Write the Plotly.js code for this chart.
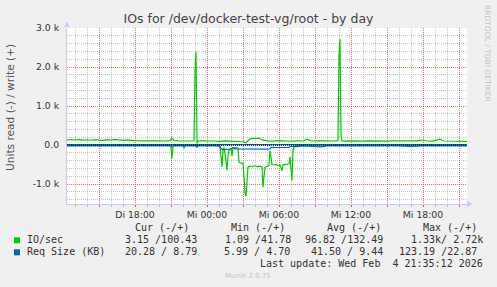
<!DOCTYPE html>
<html><head><meta charset="utf-8">
<script src="https://cdn.plot.ly/plotly-3.0.1.min.js"></script>
<style>html,body{margin:0;padding:0;background:#f0f0f0}#chart{width:497px;height:287px}</style>
</head><body><div id="chart"></div>
<script>
// ---- data (times are Feb 2026, "3 hh:mm" = Di 3.2., "4 hh:mm" = Mi 4.2.) ----
const writeTimes = [
 '3 12:20','3 12:40','3 13:00','3 13:20','3 13:40','3 14:00','3 14:20','3 14:40',
 '3 15:00','3 15:20','3 15:40','3 16:00','3 16:20','3 16:40','3 17:00','3 17:20',
 '3 17:40','3 18:00','3 18:30','3 19:00','3 19:30','3 20:00','3 20:30','3 20:55',
 '3 21:05','3 21:15','3 21:40','3 22:00','3 22:30','3 22:55','3 23:00','3 23:05',
 '3 23:10','3 23:15','3 23:40','4 00:00','4 00:30','4 01:00','4 01:30','4 02:00',
 '4 02:30','4 03:00','4 03:15','4 03:30','4 03:45','4 04:05','4 04:20','4 04:40',
 '4 05:00','4 05:30','4 06:00','4 06:30','4 07:00','4 07:30','4 08:00','4 08:20',
 '4 08:40','4 09:00','4 09:30','4 10:00','4 10:30','4 10:55','4 11:00','4 11:05',
 '4 11:10','4 11:15','4 11:40','4 12:00','4 12:30','4 13:00','4 13:30','4 14:00',
 '4 14:30','4 15:00','4 15:30','4 16:00','4 16:30','4 17:00','4 17:30','4 17:55',
 '4 18:20','4 18:50','4 19:25','4 19:45','4 20:10','4 20:40','4 21:10','4 21:40'];
const writeIO = [
 125,142,130,148,127,136,124,140,
 128,122,138,126,146,130,122,134,
 118,112,108,114,106,110,104,112,
 175,118,104,110,102,108,1900,2390,
 40,105,110,100,104,96,110,100,
 92,85,60,140,175,165,180,125,
 108,100,112,104,98,110,104,150,
 105,110,100,108,104,112,2300,2720,
 250,100,110,104,108,100,110,104,
 112,102,108,104,110,102,108,130,
 104,100,150,105,100,96,90,95];

const readTimes = [
 '3 12:20','3 14:00','3 16:00','3 18:00','3 20:00','3 20:55','3 21:00','3 21:05',
 '3 21:10','3 21:15','3 22:00','3 22:05','3 22:10','3 23:05','3 23:10','3 23:15',
 '4 00:00','4 01:05','4 01:10','4 01:15','4 01:20','4 01:25','4 01:35','4 01:40',
 '4 01:45','4 01:50','4 02:00','4 02:05','4 02:10','4 02:25','4 02:35','4 02:40',
 '4 02:45','4 02:55','4 03:00','4 03:05','4 03:10','4 03:15','4 03:20','4 03:25',
 '4 03:35','4 03:45','4 03:55','4 04:05','4 04:15','4 04:25','4 04:35','4 04:40',
 '4 04:45','4 04:50','4 05:00','4 05:10','4 05:15','4 05:20','4 05:25','4 05:35',
 '4 05:45','4 05:55','4 06:05','4 06:15','4 06:20','4 06:30','4 06:40','4 06:50',
 '4 06:55','4 07:00','4 07:05','4 07:10','4 07:15','4 07:25','4 08:00','4 12:00',
 '4 16:00','4 21:40'];
const readIO = [
 4,6,4,5,4,6,60,340,
 40,5,5,80,5,5,70,5,
 4,10,300,560,150,60,400,650,
 300,120,90,280,80,60,80,440,
 450,460,470,800,1250,1310,900,560,
 540,555,530,545,550,540,560,1080,
 700,560,550,520,140,300,500,510,
 500,520,510,660,500,500,490,480,
 300,600,915,125,60,10,5,4,
 5,4];

const reqReadTimes = [
 '3 12:20','3 13:30','3 15:00','3 16:30','3 18:00','3 19:30','3 21:00','3 21:05',
 '3 21:10','3 22:30','3 23:05','4 00:00','4 01:00','4 01:10','4 01:15','4 02:00',
 '4 02:10','4 02:20','4 03:00','4 04:00','4 05:00','4 05:15','4 05:20','4 06:00',
 '4 06:50','4 07:00','4 07:30','4 08:00','4 09:00','4 09:30','4 10:00','4 11:00',
 '4 12:00','4 13:00','4 14:00','4 15:00','4 16:00','4 17:00','4 18:00','4 19:00',
 '4 20:00','4 21:00','4 21:40'];
const reqRead = [
 20,24,18,22,19,23,18,40,
 20,22,18,21,20,90,108,105,
 60,100,105,108,104,100,60,62,
 58,30,40,22,26,45,20,24,
 20,30,20,24,22,35,20,22,
 25,20,20];

const reqWriteTimes = ['3 12:20','3 15:00','3 18:00','3 21:00','3 23:05','4 00:00','4 03:00','4 06:00',
 '4 09:00','4 11:05','4 12:00','4 15:00','4 18:00','4 21:40'];
const reqWrite = [9,8,10,9,12,8,6,7, 9,15,9,8,10,9];

const tickTimes = ['3 15:00','3 18:00','3 21:00','4 00:00','4 03:00','4 06:00','4 09:00','4 12:00','4 15:00','4 18:00','4 21:00'];
const tickLabels = ['','Di 18:00','','Mi 00:00','','Mi 06:00','','Mi 12:00','','Mi 18:00',''];
const yTickVals = [-1000,0,1000,2000,3000];
const yTickLabels = ['-1.0 k','0.0','1.0 k','2.0 k','3.0 k'];

const legendHeader = ['Cur (-/+)','Min (-/+)','Avg (-/+)','Max (-/+)'];
const ioRow = ['3.15 /100.43','1.09 /41.78','96.82 /132.49','1.33k/ 2.72k'];
const reqRow = ['20.28 / 8.79','5.99 / 4.70','41.50 / 9.44','123.19 /22.87'];

// ---- drawing ----
const d = s => '2026-02-0' + s;
const GREEN = '#00cc00', BLUE = '#0066b3';
const neg = a => a.map(v => -v);

const traces = [
 {x: writeTimes.map(d), y: writeIO, mode:'lines', line:{color:GREEN,width:1.2}},
 {x: readTimes.map(d), y: neg(readIO), mode:'lines', line:{color:GREEN,width:1.2}},
 {x: reqWriteTimes.map(d), y: reqWrite, mode:'lines', line:{color:BLUE,width:1.2}},
 {x: reqReadTimes.map(d), y: neg(reqRead), mode:'lines', line:{color:BLUE,width:1.2}}
];

const L=67, R=467, T=28, B=204;
const px = v => (v-L)/(R-L);
const py = v => (B-v)/(B-T);
const MONO = 'DejaVu Sans Mono', SANS = 'DejaVu Sans';
const TXT = '#333';
const ann = [];
function txt(text, x, y, anchor, opts) {
  ann.push(Object.assign({text, x:px(x), y:py(y), xref:'paper', yref:'paper', xanchor:anchor, yanchor:'middle',
    showarrow:false, borderpad:0, borderwidth:0, font:{family:MONO,size:10,color:TXT}}, opts||{}));
}
// y title
txt('Units read (-) / write (+)', 10, 108, 'center', {textangle:-90, font:{family:SANS,size:10.6,color:'#555'}});
// right side credit
txt('RRDTOOL / TOBI OETIKER', 488, 53, 'center', {textangle:90, font:{family:SANS,size:7.5,color:'#c4c4c4'}});
// legend header
const hdrX = [135,230.7,327.3,422.7];
legendHeader.forEach((s,i)=>txt(s, hdrX[i], 227.3, 'left'));
txt('IO/sec', 26.7, 239.7, 'left');
txt('Req Size (KB)', 26.7, 251.7, 'left');
const ioRight = [197.3,290.7,383.3,482.7];
const reqRight = [197.3,290.3,383.3,476.7];
ioRow.forEach((s,i)=>txt(s, ioRight[i], 239.7, 'right'));
reqRow.forEach((s,i)=>txt(s, reqRight[i], 251.7, 'right'));
txt('Last update: Wed Feb\u00a0\u00a04 21:35:12 2026', 482.7, 263.3, 'right');
txt('Munin 2.0.75', 248, 276, 'center', {font:{family:SANS,size:7,color:'#c0c0c0'}});

const AX = '#c8ccf2';
const shapes = [
 {type:'rect', xref:'paper', yref:'paper', x0:px(14), x1:px(20), y0:py(237.3), y1:py(243.3), fillcolor:GREEN, line:{width:0}},
 {type:'rect', xref:'paper', yref:'paper', x0:px(14), x1:px(20), y0:py(249.3), y1:py(255.3), fillcolor:BLUE, line:{width:0}},
 {type:'path', xref:'paper', yref:'paper', path:`M ${px(64)} ${py(27)} L ${px(70)} ${py(27)} L ${px(67)} ${py(21.5)} Z`, fillcolor:AX, line:{width:0}},
 {type:'path', xref:'paper', yref:'paper', path:`M ${px(467)} ${py(201)} L ${px(467)} ${py(207)} L ${px(472.5)} ${py(204)} Z`, fillcolor:AX, line:{width:0}},
 {type:'line', xref:'paper', yref:'y', x0:0, x1:1, y0:0, y1:0, layer:'above', line:{color:'#000', width:1, dash:'1px,1px'}}
];

const layout = {
 width:497, height:287,
 margin:{l:67, r:30, t:28, b:83, pad:0},
 paper_bgcolor:'#f0f0f0', plot_bgcolor:'#ffffff',
 showlegend:false, hovermode:false,
 title:{text:'IOs for /dev/docker-test-vg/root - by day', x:0.5, xanchor:'center', y:1-19/287, yanchor:'middle',
   font:{family:SANS, size:12.5, color:'#444'}},
 xaxis:{type:'date', range:[d('3 12:20'), d('4 21:40')],
   tickmode:'array', tickvals:tickTimes.map(d), ticktext:tickLabels,
   showgrid:true, gridcolor:'rgba(255,0,0,0.4)', griddash:'1px,1px', gridwidth:1,
   ticks:'outside', ticklen:2, tickcolor:'rgba(255,0,0,0.5)',
   tickfont:{family:SANS, size:9.3, color:TXT},
   showline:true, linecolor:AX, linewidth:1, zeroline:false,
   minor:{tickmode:'linear', tick0:d('3 00:00'), dtick:3600000, showgrid:true, gridcolor:'rgba(160,160,160,0.6)', griddash:'1px,1px',
     ticks:'outside', ticklen:2, tickcolor:'rgba(160,160,160,0.6)'}},
 yaxis:{range:[-1510,3000], tickmode:'array', tickvals:yTickVals, ticktext:yTickLabels,
   showgrid:true, gridcolor:'rgba(255,0,0,0.4)', griddash:'1px,1px', gridwidth:1,
   ticks:'', ticklabelstandoff:5,
   tickfont:{family:SANS, size:9.3, color:TXT},
   showline:true, linecolor:AX, linewidth:1, zeroline:false,
   minor:{tickmode:'linear', tick0:0, dtick:200, showgrid:true, gridcolor:'rgba(160,160,160,0.6)', griddash:'1px,1px'}},
 annotations:ann, shapes:shapes
};
Plotly.newPlot('chart', traces, layout, {staticPlot:true, displayModeBar:false});
</script></body></html>
